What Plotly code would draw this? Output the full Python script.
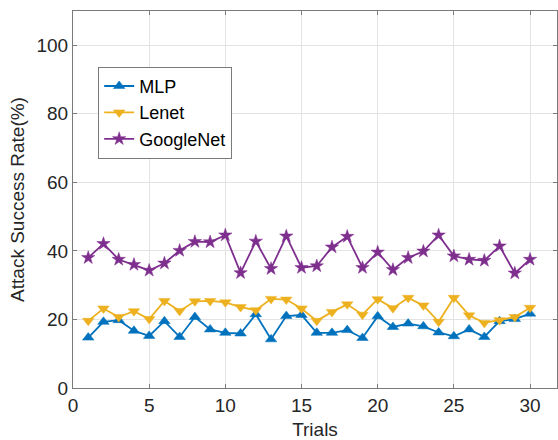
import plotly.graph_objects as go

trials = list(range(1, 31))
mlp = [14.7, 19.3, 19.8, 16.7, 15.2, 19.5, 14.9, 20.7, 17.1, 16.1,
       15.9, 21.5, 14.2, 21.0, 21.3, 16.1, 16.1, 16.9, 14.6, 20.9,
       17.8, 18.8, 18.0, 16.2, 15.1, 17.1, 14.9, 19.5, 20.1, 21.7]
lenet = [19.6, 23.2, 20.7, 22.4, 20.1, 25.4, 22.5, 25.3, 25.4, 25.0,
         23.6, 22.7, 26.0, 25.8, 23.2, 19.6, 22.2, 24.4, 21.4, 25.9,
         23.3, 26.3, 24.1, 19.3, 26.3, 21.2, 19.0, 19.8, 20.7, 23.4]
googlenet = [38.0, 42.1, 37.5, 36.0, 34.3, 36.4, 40.1, 42.7, 42.6, 44.6,
             33.6, 42.8, 34.8, 44.3, 35.1, 35.6, 41.1, 44.2, 35.1, 39.6,
             34.5, 38.0, 39.9, 44.6, 38.5, 37.5, 37.2, 41.4, 33.5, 37.5]
series_names = ["MLP", "Lenet", "GoogleNet"]
x_ticks = [0, 5, 10, 15, 20, 25, 30]
y_ticks = [0, 20, 40, 60, 80, 100]

colors = ["#0072BD", "#EDB120", "#7E2F8E"]
symbols = ["triangle-up", "triangle-down", "star"]
sizes = [10, 10, 10]

fig = go.Figure()
for name, vals, c, s, sz in zip(series_names, [mlp, lenet, googlenet], colors, symbols, sizes):
    fig.add_trace(go.Scatter(
        x=trials, y=vals, name=name, mode="lines+markers",
        line=dict(color=c, width=1.8),
        marker=dict(symbol=s, size=sz, color=c, line=dict(width=0.5, color=c)),
    ))

axis_common = dict(
    showline=True, linecolor="#7a7a7a", linewidth=1, mirror="ticks",
    ticks="inside", ticklen=4, tickcolor="#7a7a7a",
    showgrid=True, gridcolor="#e3e3e3", gridwidth=1, zeroline=False,
    tickfont=dict(family="Liberation Sans, Arial, sans-serif", size=19, color="#262626"),
)

fig.update_layout(
    width=558, height=440,
    margin=dict(l=73, r=1, t=11, b=52, pad=0),
    plot_bgcolor="white", paper_bgcolor="white",
    font=dict(family="Liberation Sans, Arial, sans-serif", size=18, color="#262626"),
    xaxis=dict(range=[0, 31.77], tickvals=x_ticks,
               title=dict(text="Trials", font=dict(size=19), standoff=11), **axis_common),
    yaxis=dict(range=[0, 110], tickvals=y_ticks,
               title=dict(text="Attack Success Rate(%)", font=dict(size=19), standoff=6), **axis_common),
    legend=dict(x=0.052, y=0.852, xanchor="left", yanchor="top",
                bgcolor="white", bordercolor="#7a7a7a", borderwidth=1,
                font=dict(size=18, color="black"), tracegroupgap=0,
                itemwidth=30),
    showlegend=True,
)

fig.write_html("out.html")
